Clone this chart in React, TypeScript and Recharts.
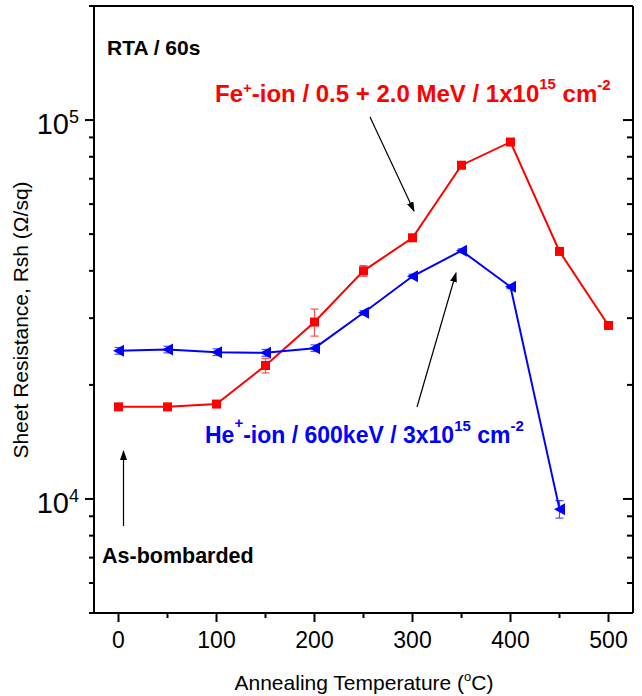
import React from "react";
import { LineChart, Line, XAxis, YAxis, ErrorBar } from "recharts";

// annealing temperatures (°C)
const temps = [0, 50, 100, 150, 200, 250, 300, 350, 400, 450, 500];
const feValues = [17500, 17500, 17800, 22500, 29300, 40000, 48900, 76000, 87500, 45000, 28700];
const feErrors = [0, 0, 0, 1000, 2400, 1300, 0, 0, 0, 0, 0];

const heTemps = [0, 50, 100, 150, 200, 250, 300, 350, 400, 450];
const heValues = [24600, 24800, 24400, 24300, 25000, 31000, 38700, 45200, 36300, 9400];
const heErrors = [500, 500, 500, 500, 500, 400, 500, 500, 400, 500];

const xMajor = [0, 100, 200, 300, 400, 500];
const xMinor = [50, 150, 250, 350, 450];
const yMajor = [10000, 100000];
const yMinor = [5000, 6000, 7000, 8000, 9000, 20000, 30000, 40000, 50000, 60000, 70000, 80000, 90000, 200000];

const X_DOMAIN = [-25, 525];
const Y_DOMAIN = [5000, 200000];

const W = 642;
const H = 696;
const MARGIN = { top: 5, right: 8, bottom: 0, left: 0 };
const Y_AXIS_W = 94;
const PLOT_W = W - MARGIN.left - MARGIN.right - Y_AXIS_W - 1;
const PX_PER_DEG = PLOT_W / (X_DOMAIN[1] - X_DOMAIN[0]);

const FONT = "'Liberation Sans', Arial, Helvetica, sans-serif";
const RED = "#ff0000";
const BLUE = "#0000ff";

const feData = temps.map((t, i) => ({ t, v: feValues[i], err: feErrors[i] }));
const heData = heTemps.map((t, i) => ({ t, v: heValues[i], err: heErrors[i] }));

const xTicks = [...xMajor, ...xMinor].sort((a, b) => a - b);
const yTicks = [...yMajor, ...yMinor].sort((a, b) => a - b);

function BottomTick({ x, y, payload }: any) {
  const v = payload.value;
  if (!xMajor.includes(v)) return <g />;
  // minor tick halfway to the next major
  const nextMinor = xMinor.find((m) => m > v && m < v + 100);
  return (
    <g>
      <line x1={x} x2={x} y1={y} y2={y + 9} stroke="#000" strokeWidth={2} />
      {nextMinor != null && (
        <line
          x1={x + (nextMinor - v) * PX_PER_DEG}
          x2={x + (nextMinor - v) * PX_PER_DEG}
          y1={y}
          y2={y + 5}
          stroke="#000"
          strokeWidth={2}
        />
      )}
      <text x={x} y={y + 35} textAnchor="middle" fontSize={23} fontFamily={FONT} fill="#000">
        {v}
      </text>
    </g>
  );
}

function TopTick({ x, y, payload }: any) {
  const major = xMajor.includes(payload.value);
  return <line x1={x} x2={x} y1={y} y2={y + (major ? 9 : 6)} stroke="#000" strokeWidth={2} />;
}

function LeftTick({ x, y, payload }: any) {
  const v = payload.value;
  const major = yMajor.includes(v);
  return (
    <g>
      <line x1={x - (major ? 9 : 5)} x2={x} y1={y} y2={y} stroke="#000" strokeWidth={2} />
      {major && (
        <text x={x - 15} y={y + 14} textAnchor="end" fontSize={29} fontFamily={FONT} fill="#000">
          10
          <tspan dy={-11} fontSize={18}>
            {Math.round(Math.log10(v))}
          </tspan>
        </text>
      )}
    </g>
  );
}

function RightTick({ x, y, payload }: any) {
  const major = yMajor.includes(payload.value);
  return <line x1={x - (major ? 10 : 6)} x2={x} y1={y} y2={y} stroke="#000" strokeWidth={2} />;
}

function SquareDot({ cx, cy, index }: any) {
  if (cx == null || cy == null) return <g key={index} />;
  return <rect key={index} x={cx - 4.5} y={cy - 4.5} width={9} height={9} fill={RED} />;
}

function TriangleDot({ cx, cy, index }: any) {
  if (cx == null || cy == null) return <g key={index} />;
  return (
    <polygon
      key={index}
      points={`${cx - 5.5},${cy} ${cx + 5.5},${cy - 6} ${cx + 5.5},${cy + 6}`}
      fill={BLUE}
    />
  );
}

function Annotations() {
  return (
    <svg
      width={W}
      height={H}
      style={{ position: "absolute", left: 0, top: 0, pointerEvents: "none" }}
      fontFamily={FONT}
    >
      <defs>
        <marker id="ah" markerWidth={10} markerHeight={7} refX={9} refY={3.5} orient="auto" markerUnits="userSpaceOnUse">
          <path d="M0,0 L10,3.5 L0,7 z" fill="#000" />
        </marker>
      </defs>
      <text x={107} y={55} fontSize={21} fontWeight="bold" fill="#000">
        RTA / 60s
      </text>
      <text x={215} y={102} fontSize={24} fontWeight="bold" fill={RED}>
        Fe
        <tspan dy={-9} fontSize={15}>+</tspan>
        <tspan dy={9}>-ion / 0.5 + 2.0 MeV / 1x10</tspan>
        <tspan dy={-13} fontSize={15}>15</tspan>
        <tspan dy={13}> cm</tspan>
        <tspan dy={-12} fontSize={15}>-2</tspan>
      </text>
      <text x={205} y={443} fontSize={23} fontWeight="bold" fill={BLUE}>
        He
        <tspan dy={-15} fontSize={15}>+</tspan>
        <tspan dy={15}>-ion / 600keV / 3x10</tspan>
        <tspan dy={-12} fontSize={15}>15</tspan>
        <tspan dy={12}> cm</tspan>
        <tspan dy={-12} fontSize={15}>-2</tspan>
      </text>
      <text x={102} y={563} fontSize={21.5} fontWeight="bold" fill="#000">
        As-bombarded
      </text>
      <line x1={370} y1={117} x2={414} y2={211} stroke="#000" strokeWidth={1.2} markerEnd="url(#ah)" />
      <line x1={417} y1={407} x2={456} y2={273} stroke="#000" strokeWidth={1.2} markerEnd="url(#ah)" />
      <line x1={123.5} y1={526} x2={123.5} y2={451} stroke="#000" strokeWidth={1.2} markerEnd="url(#ah)" />
      <text x={364} y={690} textAnchor="middle" fontSize={21} fill="#000">
        Annealing Temperature (
        <tspan dy={-9} fontSize={13}>o</tspan>
        <tspan dy={9}>C)</tspan>
      </text>
      <text
        x={28}
        y={320}
        textAnchor="middle"
        fontSize={21}
        fill="#000"
        transform="rotate(-90 28 320)"
      >
        Sheet Resistance, Rsh (Ω/sq)
      </text>
    </svg>
  );
}

export default function App() {
  const axisLine = { stroke: "#000", strokeWidth: 2 };
  return (
    <div style={{ position: "absolute", left: 0, top: 0, width: W, height: H, background: "#fff" }}>
      <LineChart width={W} height={H} margin={MARGIN}>
        <XAxis
          xAxisId="bottom"
          dataKey="t"
          type="number"
          domain={X_DOMAIN}
          ticks={xTicks}
          interval={0}
          height={83}
          tickSize={0}
          tickMargin={0}
          tick={<BottomTick />}
          axisLine={axisLine}
          tickLine={false}
          allowDataOverflow
        />
        <XAxis
          xAxisId="top"
          orientation="top"
          type="number"
          domain={X_DOMAIN}
          ticks={xTicks}
          interval={0}
          height={1}
          tickSize={0}
          tickMargin={0}
          tick={<TopTick />}
          axisLine={axisLine}
          tickLine={false}
          allowDataOverflow
        />
        <YAxis
          yAxisId="left"
          type="number"
          scale="log"
          domain={Y_DOMAIN}
          ticks={yTicks}
          interval={0}
          width={Y_AXIS_W}
          tickSize={0}
          tickMargin={0}
          tick={<LeftTick />}
          axisLine={axisLine}
          tickLine={false}
          allowDataOverflow
        />
        <YAxis
          yAxisId="right"
          orientation="right"
          type="number"
          scale="log"
          domain={Y_DOMAIN}
          ticks={yTicks}
          interval={0}
          width={1}
          tickSize={0}
          tickMargin={0}
          tick={<RightTick />}
          axisLine={axisLine}
          tickLine={false}
          allowDataOverflow
        />
        {/* hidden y axis carrying the data, same domain as the frame */}
        <YAxis yAxisId="data" type="number" scale="log" domain={Y_DOMAIN} width={0} hide allowDataOverflow />
        <Line
          xAxisId="bottom"
          yAxisId="data"
          data={feData}
          dataKey="v"
          type="linear"
          stroke={RED}
          strokeWidth={2}
          dot={SquareDot}
          activeDot={false}
          isAnimationActive={false}
        >
          <ErrorBar dataKey="err" direction="y" width={4} stroke="#ff4d4d" strokeWidth={1.2} isAnimationActive={false} />
        </Line>
        <Line
          xAxisId="bottom"
          yAxisId="data"
          data={heData}
          dataKey="v"
          type="linear"
          stroke={BLUE}
          strokeWidth={2}
          dot={TriangleDot}
          activeDot={false}
          isAnimationActive={false}
        >
          <ErrorBar dataKey="err" direction="y" width={4} stroke="#4d4dff" strokeWidth={1.2} isAnimationActive={false} />
        </Line>
      </LineChart>
      <Annotations />
    </div>
  );
}
